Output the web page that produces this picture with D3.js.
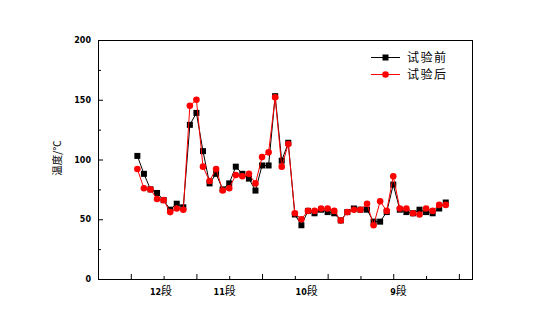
<!DOCTYPE html>
<html>
<head>
<meta charset="utf-8">
<script src="https://cdn.jsdelivr.net/npm/d3@7"></script>
<style>
  body { margin: 0; background: #fff; }
  svg { display: block; }
  .tick text { font-family: "DejaVu Sans", sans-serif; font-weight: bold; font-size: 8px; }
</style>
</head>
<body>
<div id="chart"></div>
<script>
var width = 549,
  height = 336,
  plotLeft = 98, plotRight = 472, plotTop = 40, plotBottom = 279;

// measuring points 1..48
var before = [103, 88, 75, 72, 66, 58, 63, 60, 129, 139, 107, 80, 88, 75, 80, 94,
  88, 84, 74, 95, 95, 153, 99, 114, 54, 45, 57, 55, 58, 56, 55, 49,
  56, 59, 58, 58, 48, 48, 56, 79, 58, 56, 55, 58, 56, 55, 59, 64];
var after = [92, 76, 75, 67, 66, 56, 59, 58, 145, 150, 94, 82, 92, 74, 76, 87,
  86, 88, 80, 102, 106, 152, 94, 113, 55, 50, 57, 57, 59, 59, 57, 49,
  56, 58, 58, 63, 45, 65, 57, 86, 59, 59, 55, 54, 59, 57, 62, 62];
var segLabels = ["12", "11", "10", "9"];
var segPos = [4.6, 14.3, 26.8, 40.8];
var yTicks = [0, 50, 100, 150, 200];
var seriesNames = ["试验前", "试验后"];

var x = d3.scaleLinear().domain([-5, 52]).range([plotLeft, plotRight]);
var y = d3.scaleLinear().domain([0, 200]).range([plotBottom, plotTop]);

var svg = d3.select("#chart").append("svg")
  .attr("width", width)
  .attr("height", height);

// y axis, major + minor ticks pointing inward
svg.append("g")
  .attr("transform", "translate(" + plotLeft + ",0)")
  .call(d3.axisLeft(y).tickValues(yTicks).tickSizeInner(-5).tickSizeOuter(0).tickPadding(7))
  .call(function (g) { g.select(".domain").remove(); });

svg.append("g")
  .attr("transform", "translate(" + plotLeft + ",0)")
  .call(d3.axisLeft(y).tickValues([25, 75, 125, 175]).tickSizeInner(-3).tickSizeOuter(0).tickFormat(""))
  .call(function (g) { g.select(".domain").remove(); });

// x axis
svg.append("g")
  .attr("transform", "translate(0," + plotBottom + ")")
  .call(d3.axisBottom(x).tickValues([0, 10, 20, 30, 40, 50]).tickSizeInner(-5).tickSizeOuter(0).tickFormat(""))
  .call(function (g) { g.select(".domain").remove(); });

svg.append("g")
  .attr("transform", "translate(0," + plotBottom + ")")
  .call(d3.axisBottom(x).tickValues([5, 15, 25, 35, 45]).tickSizeInner(-3).tickSizeOuter(0).tickFormat(""))
  .call(function (g) { g.select(".domain").remove(); });

svg.append("rect")
  .attr("x", plotLeft + 0.5)
  .attr("y", plotTop + 0.5)
  .attr("width", plotRight - plotLeft)
  .attr("height", plotBottom - plotTop)
  .attr("fill", "none")
  .attr("stroke", "#000");

// segment labels
var seg = svg.append("g").selectAll("text")
  .data(segLabels)
  .enter().append("text")
  .attr("x", function (d, i) { return x(segPos[i]); })
  .attr("y", 295)
  .attr("text-anchor", "middle");
seg.append("tspan")
  .attr("font-family", "DejaVu Sans")
  .attr("font-weight", "bold")
  .attr("font-size", "8px")
  .text(function (d) { return d; });
seg.append("tspan")
  .attr("font-family", "Noto Sans CJK SC")
  .attr("font-size", "11px")
  .text("段");

// y title
svg.append("text")
  .attr("transform", "translate(61,158) rotate(-90)")
  .attr("text-anchor", "middle")
  .attr("font-family", "Noto Sans CJK SC")
  .attr("font-size", "10.5px")
  .text("温度/℃");

var line = d3.line()
  .x(function (d, i) { return x(i + 1); })
  .y(function (d) { return y(d); });

svg.append("path")
  .datum(before)
  .attr("d", line)
  .attr("fill", "none")
  .attr("stroke", "#000")
  .attr("stroke-width", 1);

svg.append("g").selectAll("rect")
  .data(before)
  .enter().append("rect")
  .attr("x", function (d, i) { return x(i + 1) - 3; })
  .attr("y", function (d) { return y(d) - 3; })
  .attr("width", 6)
  .attr("height", 6)
  .attr("fill", "#000");

svg.append("path")
  .datum(after)
  .attr("d", line)
  .attr("fill", "none")
  .attr("stroke", "#f00")
  .attr("stroke-width", 1);

svg.append("g").selectAll("circle")
  .data(after)
  .enter().append("circle")
  .attr("cx", function (d, i) { return x(i + 1); })
  .attr("cy", function (d) { return y(d); })
  .attr("r", 3.3)
  .attr("fill", "#f00");

// legend
var legend = svg.append("g").selectAll("g")
  .data(seriesNames)
  .enter().append("g")
  .attr("transform", function (d, i) { return "translate(371," + (57 + i * 17) + ")"; });

legend.append("line")
  .attr("x1", 0).attr("x2", 29)
  .attr("y1", 0.5).attr("y2", 0.5)
  .attr("stroke", function (d, i) { return i ? "#f00" : "#000"; });

legend.each(function (d, i) {
  var g = d3.select(this);
  if (i === 0) {
    g.append("rect").attr("x", 11.5).attr("y", -2.5).attr("width", 6).attr("height", 6).attr("fill", "#000");
  } else {
    g.append("circle").attr("cx", 14.5).attr("cy", 0.5).attr("r", 3.3).attr("fill", "#f00");
  }
});

legend.append("text")
  .attr("x", 36)
  .attr("y", 4.5)
  .attr("font-family", "Noto Sans CJK SC")
  .attr("font-size", "12px")
  .attr("letter-spacing", "1.5px")
  .text(function (d) { return d; });
</script>
</body>
</html>
